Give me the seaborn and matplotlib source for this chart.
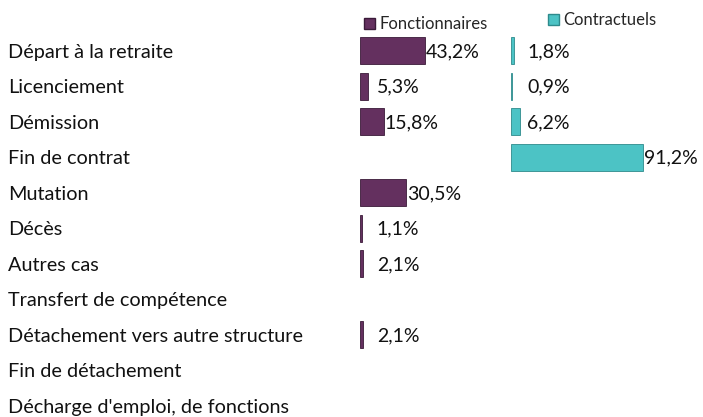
import matplotlib
matplotlib.use("Agg")
import matplotlib.pyplot as plt
from matplotlib.patches import Patch
import seaborn as sns
import pandas as pd

# ── Data ──────────────────────────────────────────────────────────────────────
categories = ["Départ à la retraite", "Licenciement", "Démission", "Fin de contrat",
              "Mutation", "Décès", "Autres cas", "Transfert de compétence",
              "Détachement vers autre structure", "Fin de détachement",
              "Décharge d'emploi, de fonctions"]
fonctionnaires = [43.2, 5.3, 15.8, None, 30.5, 1.1, 2.1, None, 2.1, None, None]
contractuels = [1.8, 0.9, 6.2, 91.2, None, None, None, None, None, None, None]

purple = "#64305f"
purple_edge = "#3a1a38"
teal = "#4cc3c5"
teal_edge = "#2e8a8c"

sns.set_theme(style="white")
plt.rcParams['font.family'] = ['Lato', 'DejaVu Sans']

df = pd.DataFrame({"cat": categories, "fonc": fonctionnaires, "contr": contractuels})

W, H = 703, 417
fig = plt.figure(figsize=(W / 100, H / 100), dpi=100)

# ── Layout (pixels) ───────────────────────────────────────────────────────────
top_px, bot_px = 33, 417
step = 35.5
n_rows = (bot_px - top_px) / step


def make_ax(x0, width):
    return fig.add_axes([x0 / W, 1 - bot_px / H, width / W, (bot_px - top_px) / H])


ax1 = make_ax(360, 150)
ax2 = make_ax(511, 145)


def fmt(v):
    return f"{v:.1f}".replace(".", ",") + "%"


for ax, col, color, edge in [(ax1, "fonc", purple, purple_edge), (ax2, "contr", teal, teal_edge)]:
    sns.barplot(data=df, x=col, y="cat", order=categories, color=color,
                width=0.76, saturation=1, edgecolor=edge, linewidth=0.6, ax=ax)
    for i, v in enumerate(df[col]):
        if pd.notna(v):
            ax.text(max(v, 10.5) + 0.8, i + 0.02, fmt(v), va="center", ha="left",
                    fontsize=14, color="#111111")
    ax.set_xlim(0, 100)
    ax.set_ylim(-0.5 + n_rows, -0.5)
    ax.set_xlabel("")
    ax.set_ylabel("")
    ax.set_xticks([])
    for s in ax.spines.values():
        s.set_visible(False)
    ax.patch.set_alpha(0)

ax1.set_yticks(range(len(categories)))
ax1.set_yticklabels(categories, ha="left", fontsize=14.3, color="#111111")
ax1.tick_params(axis="y", length=0, pad=352 * 0.72)
ax2.set_yticks([])

# ── Legends ───────────────────────────────────────────────────────────────────
leg_kw = dict(loc="center left", frameon=False, fontsize=12, handlelength=0.65,
              handleheight=0.65, handletextpad=0.25, borderpad=0, borderaxespad=0)
fig.legend(handles=[Patch(facecolor=purple, edgecolor=purple_edge, label="Fonctionnaires")],
           bbox_to_anchor=(364 / W, 1 - 24 / H), **leg_kw)
fig.legend(handles=[Patch(facecolor=teal, edgecolor=teal_edge, label="Contractuels")],
           bbox_to_anchor=(548 / W, 1 - 20 / H), **leg_kw)

fig.savefig("out.png", dpi=100)
